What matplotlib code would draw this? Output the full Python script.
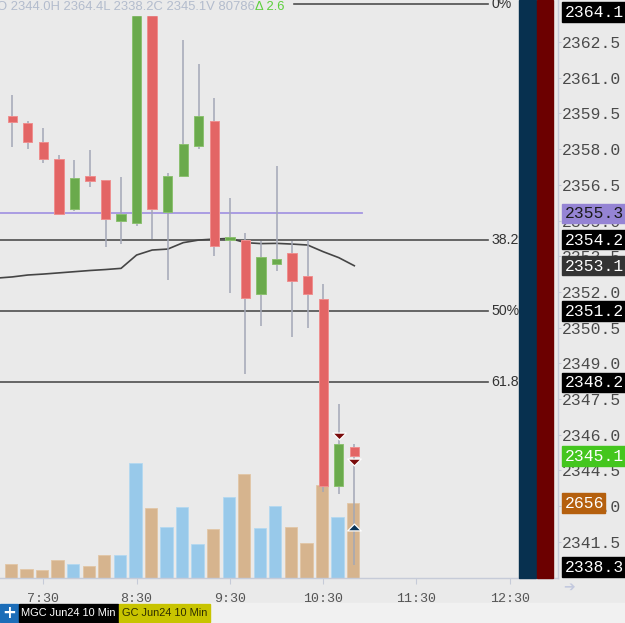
import numpy as np
import matplotlib.pyplot as plt
from matplotlib.patches import Rectangle
from matplotlib.path import Path

# ── Dados: MGC Jun24, barras de 10 min ────────────────────────────────────────
bar_times = ['7:10', '7:20', '7:30', '7:40', '7:50', '8:00', '8:10', '8:20',
             '8:30', '8:40', '8:50', '9:00', '9:10', '9:20', '9:30', '9:40',
             '9:50', '10:00', '10:10', '10:20', '10:30', '10:40', '10:50']
opens  = [2359.39, 2359.08, 2358.29, 2357.57, 2355.47, 2356.87, 2356.70, 2354.98,
          2354.91, 2363.90, 2355.37, 2356.88, 2358.14, 2359.19, 2354.18, 2354.18,
          2351.90, 2353.17, 2353.62, 2352.67, 2351.69, 2343.86, 2345.50]
highs  = [2360.27, 2359.18, 2358.87, 2357.75, 2357.54, 2357.95, 2356.70, 2356.84,
          2364.00, 2364.10, 2356.98, 2362.58, 2361.58, 2360.16, 2355.96, 2354.46,
          2354.15, 2357.29, 2354.15, 2354.18, 2352.33, 2347.28, 2345.60]
lows   = [2358.09, 2358.00, 2357.40, 2355.25, 2355.40, 2356.42, 2353.90, 2354.00,
          2354.77, 2354.21, 2352.50, 2356.82, 2358.00, 2353.51, 2351.94, 2348.54,
          2350.58, 2352.88, 2350.12, 2350.50, 2343.61, 2343.50, 2340.53]
closes = [2359.14, 2358.29, 2357.58, 2355.27, 2356.77, 2356.66, 2355.08, 2355.26,
          2363.90, 2355.47, 2356.87, 2358.20, 2359.39, 2353.95, 2354.29, 2351.76,
          2353.45, 2353.37, 2352.46, 2351.90, 2343.86, 2345.60, 2345.10]
volumes = [486, 308, 273, 640, 486, 415, 830, 830, 4079, 2466, 1802, 2502,
           1198, 1731, 2881, 3676, 1767, 2549, 1802, 1233, 3296, 2170, 2656]

ma_times  = ['7:00'] + bar_times
ma_values = [2352.58, 2352.63, 2352.71, 2352.75, 2352.80, 2352.85, 2352.90, 2352.94,
             2352.99, 2353.55, 2353.76, 2353.80, 2354.07, 2354.18, 2354.22, 2354.25,
             2354.07, 2354.03, 2354.04, 2354.01, 2353.97, 2353.69, 2353.44, 2353.10]

fib_labels = ['0%', '38.2%', '50%', '61.8%']
fib_prices = [2364.1, 2354.2, 2351.2, 2348.2]
ref_price  = 2355.3

sell_times  = ['10:40', '10:50']
sell_prices = [2345.94, 2344.85]
buy_times   = ['10:50']
buy_prices  = [2342.12]

tick_times  = ['7:30', '8:30', '9:30', '10:30', '11:30', '12:30']
price_ticks = [2341.5, 2343.0, 2344.5, 2346.0, 2347.5, 2349.0, 2350.5,
               2352.0, 2353.5, 2355.0, 2356.5, 2358.0, 2359.5, 2361.0, 2362.5]

box_values = ['2364.1', '2355.3', '2354.2', '2353.1', '2351.2', '2348.2', '2345.1', '2338.3']
vol_box    = '2656'

header_text = 'O 2344.0H 2364.4L 2338.2C 2345.1V 80786'
delta_text  = 'Δ 2.6'
tabs        = ['MGC Jun24 10 Min', 'GC Jun24 10 Min']


def to_min(s):
    h, m = s.split(':')
    return int(h) * 60 + int(m)


# ── Estilo ────────────────────────────────────────────────────────────────────
W, H = 625, 623
BG = '#eaeaea'
UP, DN = '#6aaa4c', '#e36565'
V_UP, V_DN = '#98c9ea', '#d6b48e'
MONO = 'Liberation Mono'
SANS = 'Liberation Sans'

fig = plt.figure(figsize=(W / 100, H / 100), dpi=100, facecolor=BG)
ax_left, ax_bot, ax_w, ax_h = 0, 45 / H, 558 / W, 578 / H
axv = fig.add_axes([ax_left, ax_bot, ax_w, ax_h])   # volume (atrás)
ax = fig.add_axes([ax_left, ax_bot, ax_w, ax_h])    # preço (frente)
ax.patch.set_visible(False)
axv.set_facecolor(BG)

XMIN, XMAX = 422.15, 781.0
YMIN, YMAX = 2339.98, 2364.265
VTOP = 20470

x = np.array([to_min(t) for t in bar_times])
o, h, l, c = map(np.array, (opens, highs, lows, closes))
up = c >= o

# volume
axv.bar(x - 0.8, volumes, width=7.9, color=[V_UP if u else V_DN for u in up],
        edgecolor=['#b4d8f0' if u else '#e2c6a6' for u in up], linewidth=0.6)
axv.set_xlim(XMIN, XMAX)
axv.set_ylim(0, VTOP)
axv.set_xticks([])
axv.set_yticks([])
for s in axv.spines.values():
    s.set_visible(False)

# linhas de referência
fib_end = 736.0
for p in fib_prices:
    ax.plot([XMIN, fib_end], [p, p], color='#4f4f4f', lw=1.2, zorder=2)
for lbl, p in zip(fib_labels, fib_prices):
    ax.text(fib_end + 2.2, p, lbl, fontsize=10.2, family=SANS, color='#333333',
            va='center', ha='left', zorder=3, clip_on=False)
ax.plot([XMIN, 655.0], [ref_price, ref_price], color='#a596e2', lw=1.3, zorder=2)

# média móvel
ax.plot([to_min(t) for t in ma_times], ma_values, color='#454545', lw=1.2, zorder=3)

# candles
ax.vlines(x, l, h, color='#a3a7b6', lw=1.1, zorder=4)
body = np.maximum(np.abs(c - o), 0.08)
ax.bar(x, body, bottom=np.minimum(o, c), width=6.0,
       color=[UP if u else DN for u in up],
       edgecolor=['#8cc070' if u else '#ef8f8f' for u in up], linewidth=0.7, zorder=5)

# sinais
tri_dn = Path([(-1, 0.5), (1, 0.5), (0, -0.5), (-1, 0.5)],
              [Path.MOVETO, Path.LINETO, Path.LINETO, Path.CLOSEPOLY])
tri_up = Path([(-1, -0.5), (1, -0.5), (0, 0.5), (-1, -0.5)],
              [Path.MOVETO, Path.LINETO, Path.LINETO, Path.CLOSEPOLY])
ax.plot([to_min(t) for t in sell_times], sell_prices, ls='none', marker=tri_dn,
        ms=9.8, mfc='#7a0c0c', mec='white', mew=0.9, zorder=6)
ax.plot([to_min(t) for t in buy_times], buy_prices, ls='none', marker=tri_up,
        ms=9.8, mfc='#0b3558', mec='white', mew=0.9, zorder=6)

# colunas à direita
ax.add_patch(Rectangle((519 / 558, 0), 17 / 558, 1, transform=ax.transAxes,
                       color='#07304f', zorder=7, clip_on=False))
ax.add_patch(Rectangle((537 / 558, 0), 16 / 558, 1, transform=ax.transAxes,
                       color='#6c0000', zorder=7, clip_on=False))

# eixos
ax.set_xlim(XMIN, XMAX)
ax.set_ylim(YMIN, YMAX)
for s in ['top', 'left']:
    ax.spines[s].set_visible(False)
for s in ['right', 'bottom']:
    ax.spines[s].set_color('#c6cbd8')
    ax.spines[s].set_linewidth(1.0)
ax.yaxis.tick_right()
ax.set_yticks(price_ticks, labels=[f'{v:.1f}' for v in price_ticks],
              family=MONO, fontsize=11.8, color='#4a4a4a')
ax.tick_params(axis='y', length=2.2, width=0.8, color='#c6cbd8', pad=0.8)
ax.set_xticks([to_min(t) for t in tick_times], labels=tick_times,
              family=MONO, fontsize=9.6, color='#555555')
ax.tick_params(axis='x', length=4.0, width=0.8, color='#c6cbd8', pad=7.0)

# caixas de preço no eixo
box_faces = ['#000000', '#9584d4', '#000000', '#333333', '#000000', '#000000',
             '#44c61e', '#000000']
box_text  = ['white', '#1a1a1a', 'white', 'white', 'white', 'white', 'white', 'white']


def box_at(ytop_px, label, face, tc, width):
    fig.add_artist(Rectangle((562 / W, 1 - (ytop_px + 19.5) / H), width / W, 19.5 / H,
                             transform=fig.transFigure, color=face, zorder=10))
    fig.text(564.5 / W, 1 - (ytop_px + 10.2) / H, label, family=MONO, fontsize=11.8,
             color=tc, va='center', ha='left', zorder=11)


for lbl, face, tc in zip(box_values, box_faces, box_text):
    frac = (float(lbl) - YMIN) / (YMAX - YMIN)
    yc = min(max((1 - frac) * 578, 12), 567)
    box_at(yc - 9.75, lbl, face, tc, 64)
yc = (1 - float(vol_box) / VTOP) * 578
box_at(yc - 9.75, vol_box, '#b5600e', 'white', 43)

# cabeçalho
fig.add_artist(Rectangle((0, 1 - 14.5 / H), 292 / W, 14.5 / H,
                         transform=fig.transFigure, color=BG, zorder=8))
t1 = fig.text(-3 / W, 1 - 7.5 / H, header_text, family=SANS, fontsize=9.4,
              color='#b3bccd', va='center', ha='left', zorder=9)
fig.canvas.draw()
bb = t1.get_window_extent()
fig.text(bb.x1 / W, 1 - 7.5 / H, delta_text, family=SANS, fontsize=9.4,
         color='#5ccf3c', va='center', ha='left', zorder=9)

# seta
fig.text(563 / W, 1 - 587 / H, '➔', fontsize=10, color='#c3c9de',
         va='center', ha='left', family='DejaVu Sans')

# abas
fig.add_artist(Rectangle((0, 0), 1, 20 / H, transform=fig.transFigure,
                         color='#f1f1f1', zorder=1))
tab_geom = [(0, 18, '#1c6db8'), (19, 99, '#000000'), (119, 91, '#c8c400')]
for x0, w, col in tab_geom:
    fig.add_artist(Rectangle((x0 / W, 1 / H), w / W, 18.5 / H,
                             transform=fig.transFigure, color=col, zorder=2))
fig.text(9 / W, 10.5 / H, '+', fontsize=12, fontweight='bold', color='white',
         ha='center', va='center', zorder=3)
fig.text(68.5 / W, 10 / H, tabs[0], family=SANS, fontsize=7.9, color='white',
         ha='center', va='center', zorder=3)
fig.text(164.5 / W, 10 / H, tabs[1], family=SANS, fontsize=7.9, color='#2e2e00',
         ha='center', va='center', zorder=3)

fig.savefig('out.png', dpi=100, facecolor=BG)
